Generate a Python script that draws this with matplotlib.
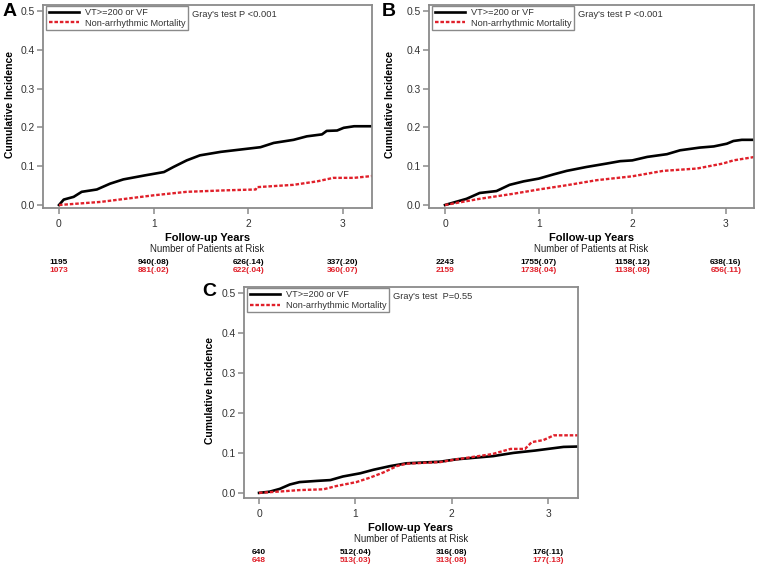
import matplotlib
matplotlib.use("Agg")
import matplotlib.pyplot as plt
import matplotlib.transforms as mtransforms

plt.rcParams['font.family'] = ['Liberation Sans', 'DejaVu Sans']

# ---------------- data ----------------
series_labels = ["VT>=200 or VF", "Non-arrhythmic Mortality"]
x_ticks = [0, 1, 2, 3]
y_ticks = [0.0, 0.1, 0.2, 0.3, 0.4, 0.5]

# Panel A
a_vt_t = [0, 0.05, 0.155, 0.24, 0.40, 0.54, 0.68, 0.90, 1.11, 1.21, 1.35, 1.49, 1.71, 1.92,
          2.13, 2.27, 2.48, 2.62, 2.78, 2.83, 2.94, 3.01, 3.12, 3.32]
a_vt_y = [0, 0.014, 0.021, 0.034, 0.040, 0.055, 0.066, 0.076, 0.085, 0.098, 0.115, 0.128, 0.137, 0.143,
          0.149, 0.160, 0.168, 0.177, 0.182, 0.191, 0.192, 0.199, 0.203, 0.203]
a_nm_t = [0, 0.44, 1.0, 1.35, 1.78, 2.08, 2.09, 2.48, 2.73, 2.90, 3.12, 3.32]
a_nm_y = [0, 0.008, 0.025, 0.034, 0.038, 0.040, 0.046, 0.052, 0.061, 0.070, 0.070, 0.075]

# Panel B
b_vt_t = [0, 0.23, 0.37, 0.55, 0.69, 0.84, 1.0, 1.16, 1.30, 1.51, 1.73, 1.87, 2.0, 2.16, 2.37,
          2.51, 2.72, 2.87, 3.01, 3.08, 3.17, 3.31]
b_vt_y = [0, 0.016, 0.031, 0.036, 0.052, 0.061, 0.068, 0.079, 0.088, 0.098, 0.107, 0.113, 0.115, 0.124,
          0.131, 0.141, 0.148, 0.151, 0.158, 0.165, 0.168, 0.168]
b_nm_t = [0, 0.37, 0.73, 1.0, 1.30, 1.62, 2.0, 2.33, 2.69, 2.97, 3.08, 3.31]
b_nm_y = [0, 0.016, 0.029, 0.040, 0.051, 0.064, 0.074, 0.088, 0.094, 0.107, 0.115, 0.124]

# Panel C
c_vt_t = [0, 0.11, 0.215, 0.32, 0.42, 0.60, 0.74, 0.87, 1.05, 1.19, 1.36, 1.53, 1.88, 2.05, 2.43,
          2.64, 2.87, 3.16, 3.32]
c_vt_y = [0, 0.003, 0.010, 0.021, 0.027, 0.030, 0.032, 0.041, 0.049, 0.058, 0.067, 0.074, 0.078, 0.084,
          0.092, 0.100, 0.106, 0.115, 0.116]
c_nm_t = [0, 0.25, 0.42, 0.67, 0.80, 1.01, 1.15, 1.29, 1.43, 1.53, 1.88, 2.05, 2.42, 2.61, 2.76,
          2.83, 2.95, 3.06, 3.32]
c_nm_y = [0, 0.004, 0.007, 0.009, 0.017, 0.027, 0.038, 0.051, 0.067, 0.073, 0.077, 0.084, 0.097, 0.110,
          0.110, 0.127, 0.132, 0.144, 0.144]

a_risk_vt = ["1195", "940(.08)", "626(.14)", "337(.20)"]
a_risk_nm = ["1073", "881(.02)", "622(.04)", "360(.07)"]
b_risk_vt = ["2243", "1755(.07)", "1158(.12)", "638(.16)"]
b_risk_nm = ["2159", "1738(.04)", "1138(.08)", "656(.11)"]
c_risk_vt = ["640", "512(.04)", "316(.08)", "176(.11)"]
c_risk_nm = ["648", "513(.03)", "313(.08)", "177(.13)"]

p_texts = ["Gray's test P <0.001", "Gray's test P <0.001", "Gray's test  P=0.55"]

# ---------------- figure ----------------
W, H = 757, 568
fig = plt.figure(figsize=(W / 100, H / 100), dpi=100)

RED = "#e0202a"
SPINE = "#8a8a8a"
TXT = "#333333"


def fx(px):
    return px / W


def fy(py):
    return 1 - py / H


def panel(rect_px, xlim, ylim, vt_t, vt_y, nm_t, nm_y, risk_vt, risk_nm, ptext,
          letter, letter_px, ylab_px, xlab_y, sub_y, r1_y, r2_y):
    x0, y0, x1, y1 = rect_px
    ax = fig.add_axes([fx(x0), fy(y1), (x1 - x0) / W, (y1 - y0) / H])
    ax.plot(vt_t, vt_y, color="black", lw=1.9, label=series_labels[0])
    ax.plot(nm_t, nm_y, color=RED, lw=1.7, ls=(0, (1.5, 0.8)), label=series_labels[1])
    ax.set_xlim(*xlim)
    ax.set_ylim(*ylim)
    ax.set_xticks(x_ticks)
    ax.set_yticks(y_ticks)
    ax.set_yticklabels([f"{v:.1f}" for v in y_ticks])
    for s in ax.spines.values():
        s.set_color(SPINE)
        s.set_linewidth(1.3)
    ax.tick_params(direction="out", length=4, width=1.1, color=SPINE,
                   labelsize=7.4, labelcolor=TXT, pad=2)
    ax.tick_params(axis="x", pad=4)
    leg = ax.legend(loc="upper left", bbox_to_anchor=(0.01, 0.995), borderaxespad=0,
                    fontsize=6.6, handlelength=3.3, handletextpad=0.7,
                    borderpad=0.25, labelspacing=0.15, fancybox=False, framealpha=1)
    leg.get_frame().set_edgecolor(SPINE)
    leg.get_frame().set_linewidth(1.0)
    for t in leg.get_texts():
        t.set_color(TXT)
    fig.canvas.draw()
    bb = leg.get_window_extent().transformed(ax.transAxes.inverted())
    ax.text(bb.x1 + 0.012, 0.975, ptext, transform=ax.transAxes, fontsize=6.7,
            color=TXT, va="top", ha="left")

    fig.text(fx(letter_px[0]), fy(letter_px[1]), letter, fontsize=14, fontweight="bold",
             ha="left", va="center")
    fig.text(fx(ylab_px[0]), fy(ylab_px[1]), "Cumulative Incidence", rotation=90,
             fontsize=7.5, fontweight="bold", ha="center", va="center")
    tr = mtransforms.blended_transform_factory(ax.transData, fig.transFigure)
    cx = (x0 + x1) / 2 / W
    fig.text(cx, fy(xlab_y), "Follow-up Years", fontsize=8.0, fontweight="bold",
             ha="center", va="center")
    fig.text(cx, fy(sub_y), "Number of Patients at Risk", fontsize=6.9,
             ha="center", va="center", color="#222222")
    for xv, s1, s2 in zip(x_ticks, risk_vt, risk_nm):
        ax.text(xv, fy(r1_y), s1, transform=tr, fontsize=6.0, fontweight="bold",
                ha="center", va="center", color="black")
        ax.text(xv, fy(r2_y), s2, transform=tr, fontsize=6.0, fontweight="bold",
                ha="center", va="center", color=RED)
    return ax


panel((43, 5, 372, 208), (-0.169, 3.309), (-0.0077, 0.5155),
      a_vt_t, a_vt_y, a_nm_t, a_nm_y, a_risk_vt, a_risk_nm, p_texts[0],
      "A", (3, 12), (10, 105), 238, 249, 262.5, 270.5)
panel((429, 5, 754, 208), (-0.171, 3.30), (-0.0077, 0.5155),
      b_vt_t, b_vt_y, b_nm_t, b_nm_y, b_risk_vt, b_risk_nm, p_texts[1],
      "B", (382, 12), (390, 105), 238, 249, 262.5, 270.5)
panel((244, 287, 578, 498), (-0.156, 3.31), (-0.0128, 0.515),
      c_vt_t, c_vt_y, c_nm_t, c_nm_y, c_risk_vt, c_risk_nm, p_texts[2],
      "C", (202, 291), (210, 390), 528, 539, 552.5, 560.5)

fig.savefig("out.png", dpi=100)
